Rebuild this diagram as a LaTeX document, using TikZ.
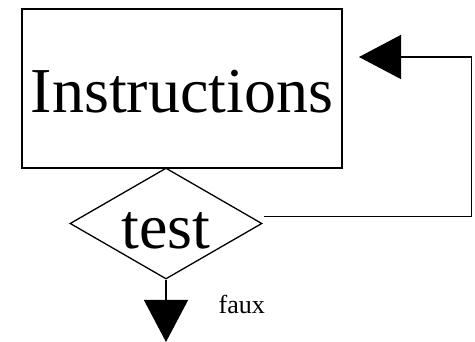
\documentclass[tikz,border=0pt]{standalone}
\usepackage{fontspec}
\setmainfont{Liberation Serif}
\usetikzlibrary{shapes.geometric,arrows.meta}
\begin{document}
\begin{tikzpicture}[x=1pt,y=1pt,line width=1.3pt,
  bigtext/.style={font=\fontsize{64}{77}\selectfont},
  bighead/.style={-{Triangle[width=44pt,length=42pt]}}]
\useasboundingbox (0,0) rectangle (475,-342);
\node[draw, bigtext, minimum width=320pt, minimum height=159pt, inner sep=0pt,
      text height=48pt, text depth=0pt] (instr) at (182,-88.5) {Instructions};
\node[draw, diamond, bigtext, aspect=1.73, inner sep=0pt, minimum width=192pt,
      minimum height=111pt, text height=50pt, text depth=0pt] (test) at (166,-223.5) {test};
\coordinate (out) at (166,-342);
\draw[bighead] (test.south) -- (out);
\node[font=\fontsize{26}{31}\selectfont, anchor=base west, inner sep=0pt] (faux) at (218,-314) {faux};
\coordinate (back) at (359,-57);
\draw[bighead] ([shift={(1,7)}]test.east) -- ++(208,0) |- (back);
\end{tikzpicture}
\end{document}
